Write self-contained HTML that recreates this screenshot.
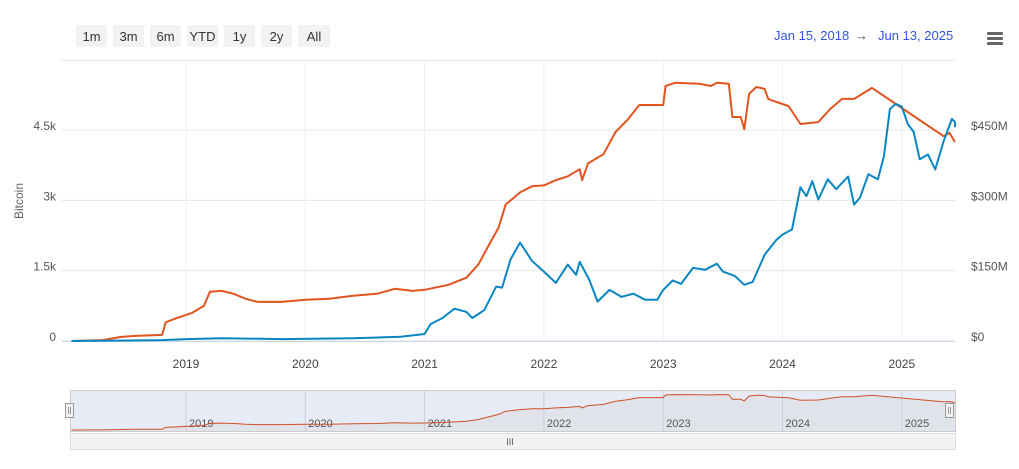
<!DOCTYPE html>
<html><head><meta charset="utf-8"><style>
body{margin:0;background:#fff;font-family:"Liberation Sans",sans-serif;}
svg{display:block}
text{font-family:"Liberation Sans",sans-serif}
</style></head><body>
<svg id="c" width="1019" height="469">
<g id="btns"></g>
<text x="774" y="40" font-size="13" fill="#3355dd">Jan 15, 2018</text>
<text x="855" y="40" font-size="13" fill="#444">→</text>
<text x="878" y="40" font-size="13" fill="#3355dd">Jun 13, 2025</text>
<g><rect x="987" y="32" width="16" height="3" rx="1" fill="#666"/><rect x="987" y="37" width="16" height="3" rx="1" fill="#666"/><rect x="987" y="42" width="16" height="3" rx="1" fill="#666"/></g>
<g id="grid"></g>
<text transform="translate(23,201) rotate(-90)" text-anchor="middle" font-size="12" fill="#666">Bitcoin</text>
<g id="series"></g>
<g id="nav"></g>
</svg>
<script>
const years=[2019,2020,2021,2022,2023,2024,2025];
const leftTicks=[0,1500,3000,4500];
const leftLabels=["0","1.5k","3k","4.5k"];
const rightTicks=[0,150,300,450];
const rightLabels=["$0","$150M","$300M","$450M"];
const btcT=[2018.04,2018.3,2018.45,2018.55,2018.8,2018.83,2018.9,2019.0,2019.05,2019.15,2019.2,2019.3,2019.4,2019.5,2019.6,2019.8,2020.0,2020.2,2020.4,2020.6,2020.75,2020.9,2021.0,2021.2,2021.35,2021.45,2021.55,2021.62,2021.68,2021.73,2021.8,2021.9,2022.0,2022.1,2022.2,2022.3,2022.32,2022.37,2022.5,2022.6,2022.7,2022.8,2023.0,2023.02,2023.1,2023.3,2023.4,2023.45,2023.55,2023.58,2023.65,2023.68,2023.72,2023.78,2023.85,2023.88,2023.95,2024.05,2024.15,2024.3,2024.4,2024.5,2024.6,2024.75,2025.35,2025.4,2025.45];
const btcV=[0,20,85,107,130,400,470,557,600,750,1050,1070,1007,900,835,835,880,900,965,1007,1114,1070,1093,1200,1350,1630,2100,2420,2915,3020,3170,3300,3320,3430,3515,3665,3430,3790,3985,4460,4715,5035,5035,5440,5510,5490,5440,5510,5490,4780,4780,4520,5270,5420,5380,5165,5100,5015,4630,4670,4950,5165,5165,5400,4370,4440,4245];
const usdT=[2018.04,2018.8,2019.0,2019.3,2019.8,2020.4,2020.8,2021.0,2021.05,2021.15,2021.25,2021.35,2021.4,2021.5,2021.6,2021.65,2021.72,2021.8,2021.9,2022.0,2022.1,2022.2,2022.27,2022.3,2022.38,2022.45,2022.55,2022.65,2022.75,2022.85,2022.95,2023.0,2023.08,2023.15,2023.25,2023.35,2023.45,2023.5,2023.6,2023.68,2023.75,2023.85,2023.95,2024.0,2024.08,2024.15,2024.2,2024.25,2024.3,2024.38,2024.45,2024.55,2024.6,2024.65,2024.72,2024.8,2024.85,2024.9,2024.95,2025.0,2025.05,2025.1,2025.15,2025.22,2025.28,2025.35,2025.42,2025.45,2025.47];
const usdV=[0,2,4,6,4,6,9,15,36,49,69,62,49,66,116,114,174,210,171,148,124,163,141,169,131,84,109,94,101,88,88,109,129,122,156,152,165,148,139,120,126,184,216,227,238,328,309,341,302,345,324,351,291,306,356,345,394,495,506,500,463,446,388,398,366,426,474,467,456];
const NS="http://www.w3.org/2000/svg";
const x=t=>Math.min(955,186+(t-2019)*119.3);
const yL=v=>341-v/1500*70.3;
const yR=v=>341-v/150*70.3;
function el(tag,attrs,parent,txt){const e=document.createElementNS(NS,tag);for(const k in attrs)e.setAttribute(k,attrs[k]);if(txt!==undefined)e.textContent=txt;parent.appendChild(e);return e;}
const btns=document.getElementById('btns');
const bl=["1m","3m","6m","YTD","1y","2y","All"];const bx=[76,113,150,187,224,261,298];const bw=[31,31,31,31,31,31,32];
bl.forEach((b,i)=>{const g=el('g',{},btns);


el('rect',{x:bx[i],y:25,width:bw[i],height:22,fill:'#f2f2f2',rx:2},g);el('text',{x:bx[i]+bw[i]/2,y:41,'text-anchor':'middle','font-size':13,fill:'#333'},g,b);});
const grid=document.getElementById('grid');
el('line',{x1:62,x2:955,y1:60.5,y2:60.5,stroke:'#e6e6e6'},grid);
leftTicks.forEach((v,i)=>{const y=yL(v);el('line',{x1:62,x2:955,y1:y,y2:y,stroke:'#e6e6e6'},grid);
const t=el('text',{x:56,y:y,'text-anchor':'end','font-size':12,fill:'#555'},grid,leftLabels[i]);

});
rightTicks.forEach((v,i)=>{const t=el('text',{x:971,y:yR(v),'font-size':12,fill:'#555'},grid,rightLabels[i]);

});
years.forEach(yr=>{const xx=x(yr);el('line',{x1:xx,x2:xx,y1:60,y2:341,stroke:'#efefef'},grid);
const t=el('text',{x:xx,y:368,'text-anchor':'middle','font-size':12,fill:'#444'},grid,yr);

});
el('line',{x1:62,x2:955,y1:341.5,y2:341.5,stroke:'#ccd6eb'},grid);
const S=document.getElementById('series');
const pts=(T,V,f)=>T.map((t,i)=>x(t).toFixed(1)+','+f(V[i]).toFixed(1)).join(' ');
const po=el('polyline',{points:pts(btcT,btcV,yL),fill:'none',stroke:'#e2541f','stroke-width':2,'stroke-linejoin':'round'},S);


const pb=el('polyline',{points:pts(usdT,usdV,yR),fill:'none',stroke:'#0a86c2','stroke-width':2,'stroke-linejoin':'round'},S);


const N=document.getElementById('nav');
const ny1=431;
const nyf=v=>ny1-1-v/5600*36;
const nb=el('rect',{x:70.5,y:390.5,width:885,height:41,fill:'#e6ebf5',stroke:'#ccc'},N);


const area=btcT.map((t,i)=>x(t).toFixed(1)+','+nyf(btcV[i]).toFixed(1)).join(' ');
el('polygon',{points:'68,431 '+area+' 955,431',fill:'rgba(200,180,180,0.15)'},N);
years.forEach(yr=>{const xx=x(yr);el('line',{x1:xx,x2:xx,y1:391,y2:431,stroke:'#ccd'},N);
const t=el('text',{x:xx+3,y:427,'font-size':11,fill:'#555'},N,yr);

});
el('polyline',{points:area,fill:'none',stroke:'#d05028','stroke-width':1},N);
[70,950].forEach((hx,i)=>{const h=el('g',{},N);


el('rect',{x:hx-4.5,y:403.5,width:8,height:14,fill:'#f2f2f2',stroke:'#999'},h);
el('line',{x1:hx-1.5,x2:hx-1.5,y1:407,y2:414,stroke:'#999'},h);el('line',{x1:hx+0.5,x2:hx+0.5,y1:407,y2:414,stroke:'#999'},h);});
const sb=el('rect',{x:70.5,y:433.5,width:885,height:16,fill:'#f2f2f2',stroke:'#ddd'},N);


const gr=el('text',{x:510,y:445,'text-anchor':'middle','font-size':9,fill:'#555'},N,'III');


</script>
</body></html>
